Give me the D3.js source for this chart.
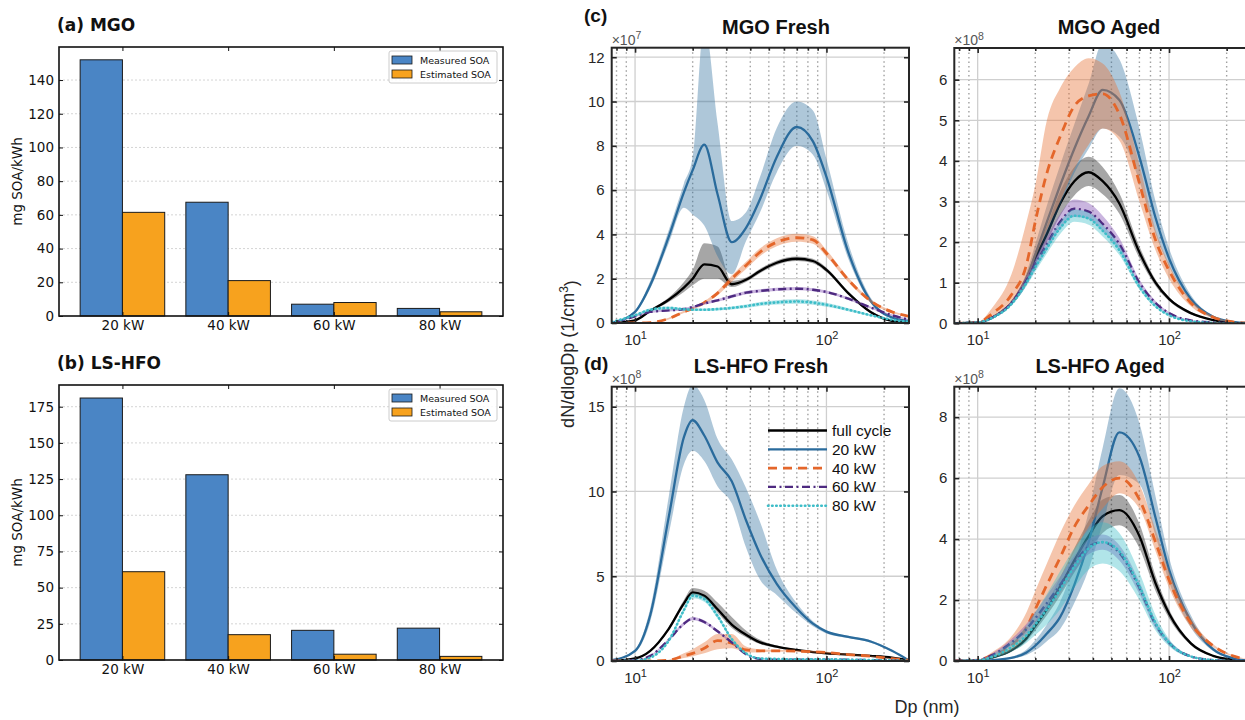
<!DOCTYPE html>
<html>
<head>
<meta charset="utf-8">
<script src="https://cdn.jsdelivr.net/npm/d3@7"></script>
<style>
body { margin: 0; background: #fff; }
svg { display: block; }
</style>
</head>
<body>
<svg id="chart" width="1245" height="720"></svg>
<script>
// ---- bar panels (a), (b) ----
var groups = ["20 kW", "40 kW", "60 kW", "80 kW"];
var mgoMeasured = [152, 67.5, 7, 4.5];
var mgoEstimated = [61.5, 21, 8, 2.5];
var hfoMeasured = [181, 128, 20.5, 22];
var hfoEstimated = [61, 17.5, 4, 2.5];
var mgoTicks = [0, 20, 40, 60, 80, 100, 120, 140];
var hfoTicks = [0, 25, 50, 75, 100, 125, 150, 175];

// ---- size distributions: shared diameter grid (nm) ----
var dp = [7.6, 10, 12, 15, 18, 20, 23, 27, 32, 38, 45, 55, 70, 85, 100, 130, 170, 220, 270];
var xMajor = [10, 100];
var xMinor = [8, 9, 20, 30, 40, 50, 60, 70, 80, 90, 200];
var legendLabels = ["full cycle", "20 kW", "40 kW", "60 kW", "80 kW"];

// (c) MGO Fresh, x1e7
var cTicks = [0, 2, 4, 6, 8, 10, 12];
var cFull   = [0, 0.12, 0.55, 1.05, 1.6, 2.0, 2.65, 2.55, 1.75, 1.95, 2.35, 2.72, 2.9, 2.8, 2.4, 1.35, 0.5, 0.1, 0.03];
var cFullLo = [0, 0.1, 0.5, 0.95, 1.4, 1.7, 2.0, 2.0, 1.62, 1.85, 2.25, 2.62, 2.8, 2.7, 2.3, 1.28, 0.45, 0.08, 0.02];
var cFullHi = [0, 0.14, 0.6, 1.15, 1.85, 2.4, 3.6, 3.45, 1.9, 2.05, 2.45, 2.82, 3.0, 2.9, 2.5, 1.42, 0.55, 0.12, 0.04];
var c20   = [0, 0.5, 1.7, 3.9, 5.9, 6.9, 8.05, 5.8, 3.65, 4.3, 5.6, 7.5, 8.85, 8.2, 6.6, 3.2, 1.0, 0.25, 0.1];
var c20Lo = [0, 0.45, 1.55, 3.6, 5.2, 4.9, 4.4, 3.0, 2.2, 3.7, 5.0, 6.8, 8.0, 7.6, 6.0, 2.9, 0.9, 0.2, 0.08];
var c20Hi = [0, 0.55, 1.9, 4.2, 6.3, 7.5, 13.5, 9.0, 4.6, 5.0, 6.6, 8.8, 10.0, 9.6, 7.4, 3.6, 1.15, 0.3, 0.12];
var c40   = [0, 0, 0.02, 0.2, 0.5, 0.65, 0.92, 1.35, 2.0, 2.6, 3.2, 3.65, 3.85, 3.75, 3.15, 1.95, 1.0, 0.5, 0.3];
var c40Lo = [0, 0, 0.01, 0.16, 0.45, 0.6, 0.85, 1.25, 1.86, 2.44, 3.03, 3.47, 3.67, 3.58, 3.0, 1.85, 0.93, 0.45, 0.27];
var c40Hi = [0, 0, 0.03, 0.24, 0.55, 0.7, 0.99, 1.45, 2.14, 2.76, 3.37, 3.83, 4.03, 3.92, 3.3, 2.05, 1.07, 0.55, 0.33];
var c60   = [0, 0.3, 0.5, 0.57, 0.63, 0.72, 0.88, 1.02, 1.2, 1.37, 1.45, 1.52, 1.55, 1.5, 1.4, 1.1, 0.7, 0.35, 0.15];
var c60Lo = [0, 0.26, 0.45, 0.52, 0.58, 0.67, 0.82, 0.96, 1.13, 1.3, 1.38, 1.45, 1.48, 1.43, 1.33, 1.04, 0.65, 0.31, 0.12];
var c60Hi = [0, 0.34, 0.55, 0.62, 0.68, 0.77, 0.94, 1.08, 1.27, 1.44, 1.52, 1.59, 1.62, 1.57, 1.47, 1.16, 0.75, 0.39, 0.18];
var c80   = [0.05, 0.35, 0.6, 0.68, 0.62, 0.6, 0.6, 0.63, 0.68, 0.76, 0.86, 0.93, 0.97, 0.92, 0.82, 0.6, 0.35, 0.15, 0.05];
var c80Lo = [0.03, 0.3, 0.53, 0.61, 0.56, 0.54, 0.54, 0.57, 0.61, 0.68, 0.77, 0.83, 0.87, 0.82, 0.73, 0.53, 0.3, 0.12, 0.03];
var c80Hi = [0.07, 0.4, 0.67, 0.75, 0.68, 0.66, 0.66, 0.69, 0.75, 0.84, 0.95, 1.03, 1.07, 1.02, 0.91, 0.67, 0.4, 0.18, 0.07];

// MGO Aged, x1e8
var eTicks = [0, 1, 2, 3, 4, 5, 6];
var eFull   = [0, 0.02, 0.15, 0.5, 1.1, 1.6, 2.2, 2.95, 3.5, 3.72, 3.5, 2.95, 1.75, 1.0, 0.6, 0.25, 0.08, 0.01, 0];
var eFullLo = [0, 0.02, 0.13, 0.45, 1.0, 1.45, 2.0, 2.65, 3.15, 3.38, 3.18, 2.7, 1.6, 0.92, 0.55, 0.22, 0.07, 0.01, 0];
var eFullHi = [0, 0.02, 0.17, 0.55, 1.2, 1.75, 2.4, 3.25, 3.85, 4.1, 3.85, 3.2, 1.9, 1.08, 0.65, 0.28, 0.09, 0.01, 0];
var e20   = [0, 0.02, 0.15, 0.5, 1.1, 1.7, 2.5, 3.4, 4.3, 5.1, 5.75, 5.5, 4.1, 2.6, 1.6, 0.6, 0.16, 0.03, 0];
var e20Lo = [0, 0.02, 0.13, 0.45, 0.95, 1.45, 2.1, 2.9, 3.7, 4.3, 4.8, 4.6, 3.5, 2.2, 1.4, 0.52, 0.13, 0.02, 0];
var e20Hi = [0, 0.02, 0.17, 0.55, 1.25, 1.95, 2.9, 3.9, 4.9, 5.9, 6.9, 6.5, 4.8, 3.0, 1.85, 0.7, 0.19, 0.04, 0];
var e40   = [0, 0.02, 0.25, 0.7, 1.45, 2.5, 3.7, 4.6, 5.35, 5.6, 5.65, 5.15, 3.45, 2.05, 1.3, 0.5, 0.15, 0.03, 0];
var e40Lo = [0, 0.01, 0.15, 0.5, 1.0, 1.6, 2.3, 3.0, 3.8, 4.4, 4.8, 4.5, 3.0, 1.8, 1.1, 0.42, 0.12, 0.02, 0];
var e40Hi = [0, 0.03, 0.4, 1.2, 2.5, 3.4, 5.0, 5.8, 6.3, 6.53, 6.4, 5.7, 3.9, 2.3, 1.45, 0.58, 0.18, 0.04, 0];
var e60   = [0, 0.02, 0.15, 0.5, 1.05, 1.45, 1.95, 2.5, 2.82, 2.75, 2.45, 1.95, 1.0, 0.5, 0.25, 0.07, 0.02, 0, 0];
var e60Lo = [0, 0.02, 0.13, 0.45, 0.95, 1.32, 1.8, 2.32, 2.62, 2.56, 2.27, 1.8, 0.92, 0.45, 0.22, 0.06, 0.02, 0, 0];
var e60Hi = [0, 0.02, 0.17, 0.55, 1.15, 1.58, 2.12, 2.7, 3.05, 2.96, 2.65, 2.1, 1.08, 0.55, 0.28, 0.08, 0.02, 0, 0];
var e80   = [0, 0.02, 0.14, 0.47, 1.0, 1.38, 1.85, 2.35, 2.65, 2.58, 2.28, 1.8, 0.9, 0.42, 0.2, 0.05, 0.01, 0, 0];
var e80Lo = [0, 0.02, 0.12, 0.43, 0.92, 1.27, 1.72, 2.2, 2.5, 2.43, 2.14, 1.68, 0.83, 0.38, 0.18, 0.04, 0.01, 0, 0];
var e80Hi = [0, 0.02, 0.16, 0.51, 1.08, 1.49, 1.98, 2.5, 2.8, 2.73, 2.42, 1.92, 0.97, 0.46, 0.22, 0.06, 0.01, 0, 0];

// (d) LS-HFO Fresh, x1e8
var dTicks = [0, 5, 10, 15];
var dFull   = [0, 0.15, 0.6, 1.9, 3.4, 4.05, 3.85, 3.05, 2.15, 1.55, 1.1, 0.85, 0.65, 0.52, 0.45, 0.38, 0.3, 0.2, 0.05];
var dFullLo = [0, 0.13, 0.55, 1.8, 3.25, 3.9, 3.7, 2.85, 1.95, 1.4, 1.0, 0.78, 0.6, 0.48, 0.42, 0.35, 0.27, 0.18, 0.04];
var dFullHi = [0, 0.17, 0.65, 2.0, 3.6, 4.3, 4.15, 3.45, 2.6, 1.8, 1.25, 0.92, 0.7, 0.56, 0.48, 0.41, 0.33, 0.22, 0.06];
var d20   = [0.05, 0.6, 2.7, 8.5, 13.2, 14.2, 13.3, 11.7, 10.6, 8.3, 6.3, 4.55, 3.1, 2.2, 1.73, 1.42, 1.15, 0.6, 0.03];
var d20Lo = [0.04, 0.5, 2.3, 7.5, 11.6, 12.4, 11.8, 10.3, 9.3, 6.7, 4.8, 3.9, 2.8, 2.05, 1.62, 1.35, 1.08, 0.55, 0.02];
var d20Hi = [0.06, 0.7, 3.1, 9.7, 15.0, 16.3, 15.4, 13.1, 11.9, 10.2, 8.2, 5.4, 3.4, 2.35, 1.82, 1.49, 1.22, 0.65, 0.04];
var d40   = [0, 0, 0, 0.05, 0.3, 0.45, 0.75, 1.2, 1.05, 0.65, 0.6, 0.6, 0.58, 0.55, 0.5, 0.38, 0.28, 0.14, 0.04];
var d40Lo = [0, 0, 0, 0.03, 0.18, 0.28, 0.45, 0.7, 0.75, 0.5, 0.52, 0.54, 0.53, 0.5, 0.46, 0.35, 0.25, 0.12, 0.03];
var d40Hi = [0, 0, 0, 0.08, 0.45, 0.7, 1.1, 1.6, 1.6, 0.85, 0.68, 0.66, 0.63, 0.6, 0.54, 0.41, 0.31, 0.16, 0.05];
var d60   = [0, 0.05, 0.3, 1.25, 2.2, 2.5, 2.3, 1.75, 1.1, 0.4, 0.12, 0.08, 0.08, 0.08, 0.08, 0.07, 0.05, 0.02, 0];
var d60Lo = [0, 0.04, 0.26, 1.18, 2.1, 2.4, 2.2, 1.67, 1.04, 0.36, 0.1, 0.06, 0.06, 0.06, 0.06, 0.05, 0.04, 0.01, 0];
var d60Hi = [0, 0.06, 0.34, 1.32, 2.3, 2.6, 2.4, 1.83, 1.16, 0.44, 0.14, 0.1, 0.1, 0.1, 0.1, 0.09, 0.06, 0.03, 0];
var d80   = [0, 0.02, 0.2, 1.2, 3.0, 3.85, 3.65, 2.65, 1.3, 0.45, 0.15, 0.12, 0.1, 0.1, 0.1, 0.08, 0.06, 0.03, 0];
var d80Lo = [0, 0.01, 0.17, 1.1, 2.85, 3.7, 3.5, 2.5, 1.2, 0.4, 0.12, 0.1, 0.08, 0.08, 0.08, 0.06, 0.05, 0.02, 0];
var d80Hi = [0, 0.03, 0.23, 1.3, 3.15, 4.0, 3.8, 2.8, 1.4, 0.5, 0.18, 0.14, 0.12, 0.12, 0.12, 0.1, 0.07, 0.04, 0];

// LS-HFO Aged, x1e8
var fTicks = [0, 2, 4, 6, 8];
var fFull   = [0, 0.02, 0.12, 0.35, 0.75, 1.15, 1.7, 2.45, 3.3, 4.1, 4.75, 4.95, 4.1, 2.55, 1.56, 0.58, 0.17, 0.04, 0];
var fFullLo = [0, 0.02, 0.1, 0.3, 0.65, 1.0, 1.5, 2.15, 2.9, 3.6, 4.2, 4.45, 3.7, 2.3, 1.4, 0.52, 0.15, 0.03, 0];
var fFullHi = [0, 0.02, 0.14, 0.4, 0.85, 1.3, 1.9, 2.75, 3.7, 4.6, 5.3, 5.45, 4.5, 2.8, 1.7, 0.64, 0.19, 0.05, 0];
var f20   = [0, 0.01, 0.03, 0.1, 0.28, 0.5, 0.9, 1.45, 2.5, 3.9, 5.7, 7.5, 6.7, 4.7, 3.0, 1.3, 0.38, 0.08, 0];
var f20Lo = [0, 0.01, 0.02, 0.07, 0.2, 0.35, 0.65, 1.05, 1.9, 3.0, 4.5, 6.1, 5.8, 4.1, 2.6, 1.1, 0.33, 0.06, 0];
var f20Hi = [0, 0.01, 0.04, 0.14, 0.38, 0.68, 1.2, 1.95, 3.2, 4.9, 7.0, 8.95, 7.8, 5.4, 3.4, 1.5, 0.45, 0.1, 0];
var f40   = [0, 0.03, 0.2, 0.5, 1.1, 1.7, 2.5, 3.4, 4.4, 5.1, 5.7, 6.0, 5.3, 3.9, 2.66, 1.24, 0.5, 0.15, 0.05];
var f40Lo = [0, 0.02, 0.12, 0.35, 0.8, 1.25, 1.9, 2.7, 3.6, 4.4, 5.0, 5.5, 5.0, 3.6, 2.4, 1.1, 0.45, 0.13, 0.04];
var f40Hi = [0, 0.04, 0.3, 0.8, 1.6, 2.3, 3.2, 4.2, 5.1, 5.8, 6.4, 6.55, 5.8, 4.3, 2.95, 1.4, 0.55, 0.17, 0.05];
var f60   = [0, 0.03, 0.2, 0.6, 1.05, 1.4, 1.9, 2.5, 3.2, 3.75, 3.9, 3.55, 2.4, 1.2, 0.6, 0.15, 0.03, 0, 0];
var f60Lo = [0, 0.02, 0.16, 0.5, 0.9, 1.22, 1.68, 2.25, 2.95, 3.5, 3.65, 3.3, 2.2, 1.08, 0.52, 0.12, 0.02, 0, 0];
var f60Hi = [0, 0.04, 0.26, 0.72, 1.22, 1.6, 2.15, 2.78, 3.45, 4.0, 4.15, 3.8, 2.6, 1.32, 0.68, 0.18, 0.04, 0, 0];
var f80   = [0, 0.02, 0.14, 0.45, 0.85, 1.2, 1.7, 2.35, 3.1, 3.7, 3.9, 3.6, 2.45, 1.25, 0.6, 0.15, 0.03, 0, 0];
var f80Lo = [0, 0.01, 0.08, 0.3, 0.6, 0.85, 1.2, 1.7, 2.4, 3.0, 3.2, 2.95, 2.0, 1.0, 0.48, 0.12, 0.02, 0, 0];
var f80Hi = [0, 0.03, 0.22, 0.65, 1.15, 1.6, 2.2, 2.95, 3.7, 4.3, 4.55, 4.2, 2.9, 1.5, 0.72, 0.18, 0.04, 0, 0];

var svg = d3.select("#chart");
svg.append("rect").attr("width", 1245).attr("height", 720).attr("fill", "#fff");

// ================= bar charts =================
var barLeft = 59, barRight = 503;
var measuredColor = "#4a85c5", estimatedColor = "#f7a21e";
var bFont = "'DejaVu Sans', sans-serif";

function drawBars(top, bottom, ymax, ticks, measured, estimated, title) {
  var x = d3.scaleLinear().domain([-0.6, 3.6]).range([barLeft, barRight]);
  var y = d3.scaleLinear().domain([0, ymax]).range([bottom, top]);
  var g = svg.append("g");

  // dotted grid
  g.selectAll(".grid").data(ticks.slice(1)).enter().append("line")
    .attr("x1", barLeft).attr("x2", barRight)
    .attr("y1", function(d) { return y(d); }).attr("y2", function(d) { return y(d); })
    .attr("stroke", "#c9c9c9").attr("stroke-width", 0.8).attr("stroke-dasharray", "2,2");

  // bars
  [measured, estimated].forEach(function(vals, k) {
    g.selectAll(null).data(vals).enter().append("rect")
      .attr("x", function(d, i) { return x(i - 0.4 + 0.4 * k); })
      .attr("width", x(0.4) - x(0))
      .attr("y", function(d) { return y(d); })
      .attr("height", function(d) { return y(0) - y(d); })
      .attr("fill", k ? estimatedColor : measuredColor)
      .attr("stroke", "#1a1a1a").attr("stroke-width", 1);
  });

  // axes, ticks pointing in
  var left = g.append("g").attr("transform", "translate(" + barLeft + ",0)")
    .call(d3.axisLeft(y).tickValues(ticks).tickSizeInner(-4).tickSizeOuter(0).tickPadding(5));
  var right = g.append("g").attr("transform", "translate(" + barRight + ",0)")
    .call(d3.axisRight(y).tickValues(ticks).tickSizeInner(-4).tickSizeOuter(0).tickFormat(""));
  var bot = g.append("g").attr("transform", "translate(0," + bottom + ")")
    .call(d3.axisBottom(x).tickValues([0, 1, 2, 3]).tickFormat(function(i) { return groups[i]; })
      .tickSizeInner(-4).tickSizeOuter(0).tickPadding(4));
  var topAx = g.append("g").attr("transform", "translate(0," + top + ")")
    .call(d3.axisTop(x).tickValues([0, 1, 2, 3]).tickSizeInner(-4).tickSizeOuter(0).tickFormat(""));
  [left, right, bot, topAx].forEach(function(a) {
    a.attr("font-family", bFont).attr("font-size", 13.5).attr("color", "#111");
    a.select(".domain").remove();
  });

  g.append("rect").attr("x", barLeft).attr("y", top)
    .attr("width", barRight - barLeft).attr("height", bottom - top)
    .attr("fill", "none").attr("stroke", "#111").attr("stroke-width", 1.6);

  g.append("text").attr("transform", "translate(22," + (top + bottom) / 2 + ") rotate(-90)")
    .attr("text-anchor", "middle").attr("font-family", bFont)
    .attr("font-size", 13.5).attr("fill", "#111").text("mg SOA/kWh");

  g.append("text").attr("x", 57).attr("y", top - 16)
    .attr("font-family", bFont).attr("font-weight", "bold")
    .attr("font-size", 17).attr("fill", "#111").text(title);

  // legend
  var lg = g.append("g").attr("transform", "translate(389," + (top + 4) + ")");
  lg.append("rect").attr("width", 108).attr("height", 32).attr("rx", 2)
    .attr("fill", "#fff").attr("fill-opacity", 0.85).attr("stroke", "#cccccc");
  ["Measured SOA", "Estimated SOA"].forEach(function(lab, k) {
    lg.append("rect").attr("x", 3).attr("y", 5 + 14 * k).attr("width", 20).attr("height", 8)
      .attr("fill", k ? estimatedColor : measuredColor).attr("stroke", "#1a1a1a").attr("stroke-width", 0.8);
    lg.append("text").attr("x", 31).attr("y", 12.5 + 14 * k)
      .attr("font-family", bFont).attr("font-size", 9.5).attr("fill", "#111").text(lab);
  });
}

drawBars(47, 316, 159.6, mgoTicks, mgoMeasured, mgoEstimated, "(a) MGO");
drawBars(385, 660, 190, hfoTicks, hfoMeasured, hfoEstimated, "(b) LS-HFO");

// ================= size distribution panels =================
var styles = [
  { color: "#000000", band: "#000000", op: 0.35, dash: null, width: 2.3, cap: "butt" },
  { color: "#2a6b9c", band: "#2a6b9c", op: 0.38, dash: null, width: 2.3, cap: "butt" },
  { color: "#e4662a", band: "#e8743a", op: 0.42, dash: "9,6", width: 2.8, cap: "butt" },
  { color: "#4e2a80", band: "#8a5bb8", op: 0.45, dash: "8,3.5,2,3.5", width: 2.4, cap: "butt" },
  { color: "#3dbdc8", band: "#3dbdc8", op: 0.4, dash: "0.5,3.6", width: 2.6, cap: "round" }
];

var panelW = 297.3;
var panels = [
  { x0: 611.7, y0: 47.7, h: 275.3, ymax: 12.43, ticks: cTicks, exp: "7", title: "MGO Fresh", tx: 776, letter: "(c)", ly: 22,
    series: [[cFull, cFullLo, cFullHi], [c20, c20Lo, c20Hi], [c40, c40Lo, c40Hi], [c60, c60Lo, c60Hi], [c80, c80Lo, c80Hi]] },
  { x0: 954.3, y0: 48, h: 275.3, ymax: 6.78, ticks: eTicks, exp: "8", title: "MGO Aged", tx: 1109,
    series: [[eFull, eFullLo, eFullHi], [e20, e20Lo, e20Hi], [e40, e40Lo, e40Hi], [e60, e60Lo, e60Hi], [e80, e80Lo, e80Hi]] },
  { x0: 611.7, y0: 386.7, h: 274.3, ymax: 16.18, ticks: dTicks, exp: "8", title: "LS-HFO Fresh", tx: 761, letter: "(d)", ly: 370, legend: true,
    series: [[dFull, dFullLo, dFullHi], [d20, d20Lo, d20Hi], [d40, d40Lo, d40Hi], [d60, d60Lo, d60Hi], [d80, d80Lo, d80Hi]] },
  { x0: 954.3, y0: 386.7, h: 274.3, ymax: 9.0, ticks: fTicks, exp: "8", title: "LS-HFO Aged", tx: 1100,
    series: [[fFull, fFullLo, fFullHi], [f20, f20Lo, f20Hi], [f40, f40Lo, f40Hi], [f60, f60Lo, f60Hi], [f80, f80Lo, f80Hi]] }
];

var mFont = "'Liberation Sans', Arial, sans-serif";
var axisColor = "#262626";

panels.forEach(function(p, pi) {
  var x = d3.scaleLog().domain([7.55, 270]).range([p.x0, p.x0 + panelW]);
  var y = d3.scaleLinear().domain([0, p.ymax]).range([p.y0 + p.h, p.y0]);
  var g = svg.append("g");
  var clipId = "clip" + pi;
  svg.append("defs").append("clipPath").attr("id", clipId)
    .append("rect").attr("x", p.x0).attr("y", p.y0).attr("width", panelW).attr("height", p.h);

  // grid
  g.selectAll(".minor").data(xMinor).enter().append("line")
    .attr("x1", function(d) { return x(d); }).attr("x2", function(d) { return x(d); })
    .attr("y1", p.y0).attr("y2", p.y0 + p.h)
    .attr("stroke", "#a0a0a0").attr("stroke-width", 1.4).attr("stroke-dasharray", "1.5,3");
  g.selectAll(".major").data(xMajor).enter().append("line")
    .attr("x1", function(d) { return x(d); }).attr("x2", function(d) { return x(d); })
    .attr("y1", p.y0).attr("y2", p.y0 + p.h)
    .attr("stroke", "#cfcfcf").attr("stroke-width", 1.3);
  g.selectAll(".ygrid").data(p.ticks).enter().append("line")
    .attr("x1", p.x0).attr("x2", p.x0 + panelW)
    .attr("y1", function(d) { return y(d); }).attr("y2", function(d) { return y(d); })
    .attr("stroke", "#cfcfcf").attr("stroke-width", 1.3);

  // curves
  var plot = g.append("g").attr("clip-path", "url(#" + clipId + ")");
  var area = d3.area().curve(d3.curveMonotoneX)
    .x(function(d) { return x(d[0]); }).y0(function(d) { return y(d[1]); }).y1(function(d) { return y(d[2]); });
  var line = d3.line().curve(d3.curveMonotoneX)
    .x(function(d) { return x(d[0]); }).y(function(d) { return y(d[1]); });

  p.series.forEach(function(s, k) {
    var st = styles[k];
    var pts = dp.map(function(d, i) { return [d, s[1][i], s[2][i]]; });
    plot.append("path").datum(pts).attr("d", area)
      .attr("fill", st.band).attr("fill-opacity", st.op).attr("stroke", "none");
    var lpts = dp.map(function(d, i) { return [d, s[0][i]]; });
    plot.append("path").datum(lpts).attr("d", line)
      .attr("fill", "none").attr("stroke", st.color).attr("stroke-width", st.width)
      .attr("stroke-dasharray", st.dash).attr("stroke-linecap", st.cap);
  });

  // axes (ticks inward on all four sides)
  var bottom = p.y0 + p.h;
  var axB = g.append("g").attr("transform", "translate(0," + bottom + ")")
    .call(d3.axisBottom(x).tickValues(xMajor).tickSizeInner(-5).tickSizeOuter(0).tickPadding(11));
  var axBm = g.append("g").attr("transform", "translate(0," + bottom + ")")
    .call(d3.axisBottom(x).tickValues(xMinor).tickSizeInner(-3).tickSizeOuter(0).tickFormat(""));
  var axT = g.append("g").attr("transform", "translate(0," + p.y0 + ")")
    .call(d3.axisTop(x).tickValues(xMajor).tickSizeInner(-5).tickSizeOuter(0).tickFormat(""));
  var axTm = g.append("g").attr("transform", "translate(0," + p.y0 + ")")
    .call(d3.axisTop(x).tickValues(xMinor).tickSizeInner(-3).tickSizeOuter(0).tickFormat(""));
  var axL = g.append("g").attr("transform", "translate(" + p.x0 + ",0)")
    .call(d3.axisLeft(y).tickValues(p.ticks).tickFormat(d3.format("d"))
      .tickSizeInner(-5).tickSizeOuter(0).tickPadding(7));
  var axR = g.append("g").attr("transform", "translate(" + (p.x0 + panelW) + ",0)")
    .call(d3.axisRight(y).tickValues(p.ticks).tickSizeInner(-5).tickSizeOuter(0).tickFormat(""));
  [axB, axBm, axT, axTm, axL, axR].forEach(function(a) {
    a.attr("font-family", mFont).attr("font-size", 15).attr("color", axisColor);
    a.select(".domain").remove();
    a.selectAll(".tick line").attr("stroke-width", 1.6);
  });
  axL.selectAll(".tick text").attr("fill", axisColor);
  axB.selectAll(".tick text").attr("fill", axisColor).text(null).each(function(d) {
    var t = d3.select(this);
    t.append("tspan").text("10");
    t.append("tspan").attr("dy", "-0.55em").attr("font-size", 11).text(Math.round(Math.log10(d)));
  });

  g.append("rect").attr("x", p.x0).attr("y", p.y0).attr("width", panelW).attr("height", p.h)
    .attr("fill", "none").attr("stroke", axisColor).attr("stroke-width", 2);

  // exponent label
  var ex = g.append("text").attr("x", p.x0).attr("y", p.y0 - 3)
    .attr("font-family", mFont).attr("font-size", 14).attr("fill", "#555");
  ex.append("tspan").text("\u00d710");
  ex.append("tspan").attr("dy", "-0.5em").attr("font-size", 10.5).text(p.exp);

  g.append("text").attr("x", p.tx).attr("y", p.y0 - 14).attr("text-anchor", "middle")
    .attr("font-family", mFont).attr("font-weight", "bold").attr("font-size", 20)
    .attr("fill", "#111").text(p.title);
  if (p.letter) {
    g.append("text").attr("x", 584).attr("y", p.ly)
      .attr("font-family", mFont).attr("font-weight", "bold").attr("font-size", 19)
      .attr("fill", "#111").text(p.letter);
  }

  if (p.legend) {
    var lg = g.append("g");
    legendLabels.forEach(function(lab, k) {
      var st = styles[k];
      var ly = 430.5 + 18.8 * k;
      lg.append("line").attr("x1", 768).attr("x2", 827).attr("y1", ly).attr("y2", ly)
        .attr("stroke", st.color).attr("stroke-width", st.width)
        .attr("stroke-dasharray", st.dash).attr("stroke-linecap", st.cap);
      lg.append("text").attr("x", 832).attr("y", ly + 5.5)
        .attr("font-family", mFont).attr("font-size", 15.5).attr("fill", "#111").text(lab);
    });
  }
});

// shared axis labels
var yl = svg.append("text").attr("transform", "translate(574,354) rotate(-90)")
  .attr("text-anchor", "middle").attr("font-family", mFont).attr("font-size", 18).attr("fill", axisColor);
yl.append("tspan").text("dN/dlogDp (1/cm");
yl.append("tspan").attr("dy", "-0.5em").attr("font-size", 12).text("3");
yl.append("tspan").attr("dy", "0.5em").text(")");

svg.append("text").attr("x", 927).attr("y", 713).attr("text-anchor", "middle")
  .attr("font-family", mFont).attr("font-size", 18).attr("fill", axisColor).text("Dp (nm)");
</script>
</body>
</html>
